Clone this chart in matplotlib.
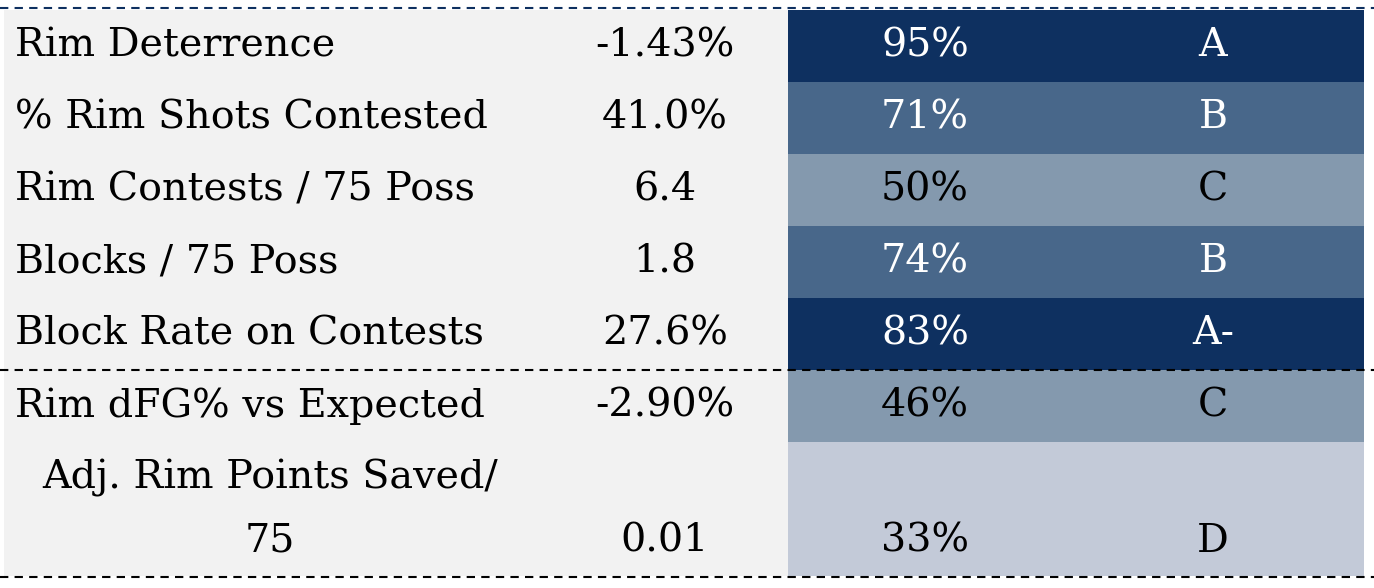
import matplotlib
matplotlib.use("Agg")
import matplotlib.pyplot as plt
from matplotlib.patches import Rectangle

# table contents
labels = ["Rim Deterrence", "% Rim Shots Contested", "Rim Contests / 75 Poss",
          "Blocks / 75 Poss", "Block Rate on Contests", "Rim dFG% vs Expected",
          "Adj. Rim Points Saved/\n75"]
values = ["-1.43%", "41.0%", "6.4", "1.8", "27.6%", "-2.90%", "0.01"]
percentiles = [95, 71, 50, 74, 83, 46, 33]
grades = ["A", "B", "C", "B", "A-", "C", "D"]

grade_colors = {"A": "#0e3060", "A-": "#0e3060", "B": "#48678a",
                "C": "#8499ae", "D": "#c3cad8"}
grade_text = {"A": "white", "A-": "white", "B": "white",
              "C": "black", "D": "black"}

W, H = 1374, 588
fig = plt.figure(figsize=(W / 100, H / 100), dpi=100)
ax = fig.add_axes([0, 0, 1, 1])
ax.set_xlim(0, W)
ax.set_ylim(H, 0)
ax.axis("off")

plt.rcParams["font.family"] = ["DejaVu Serif"]
fs = 28.5

top = 10
row_h = 72
heights = [row_h] * 6 + [row_h * 1.86]
x_left, x_split, x_right = 4, 788, 1364
x_val, x_pct, x_grade = 665, 925, 1213

y = top
for i, lab in enumerate(labels):
    h = heights[i]
    g = grades[i]
    ax.add_patch(Rectangle((x_left, y), x_split - x_left, h, color="#f2f2f2", lw=0))
    ax.add_patch(Rectangle((x_split, y), x_right - x_split, h, color=grade_colors[g], lw=0))
    tc = grade_text[g]
    if "\n" in lab:
        first, second = lab.split("\n")
        ax.text(270, y + h * 0.27, first, fontsize=fs, ha="center", va="center")
        ax.text(270, y + h * 0.74, second, fontsize=fs, ha="center", va="center")
        yc = y + h * 0.74
    else:
        yc = y + h / 2
        ax.text(15, yc, lab, fontsize=fs, ha="left", va="center")
    ax.text(x_val, yc, values[i], fontsize=fs, ha="center", va="center")
    ax.text(x_pct, yc, f"{percentiles[i]}%", fontsize=fs, ha="center", va="center", color=tc)
    ax.text(x_grade, yc, g, fontsize=fs, ha="center", va="center", color=tc)
    y += h

# dashed separators
bottom = y
mid = top + row_h * 5
ax.plot([0, W], [8, 8], color="#0e3060", lw=1.5, ls=(0, (4, 3)))
ax.plot([0, W], [mid, mid], color="black", lw=1.5, ls=(0, (4, 3)))
ax.plot([0, W], [bottom + 1, bottom + 1], color="black", lw=1.5, ls=(0, (4, 3)))

fig.savefig("out.png", dpi=100)
